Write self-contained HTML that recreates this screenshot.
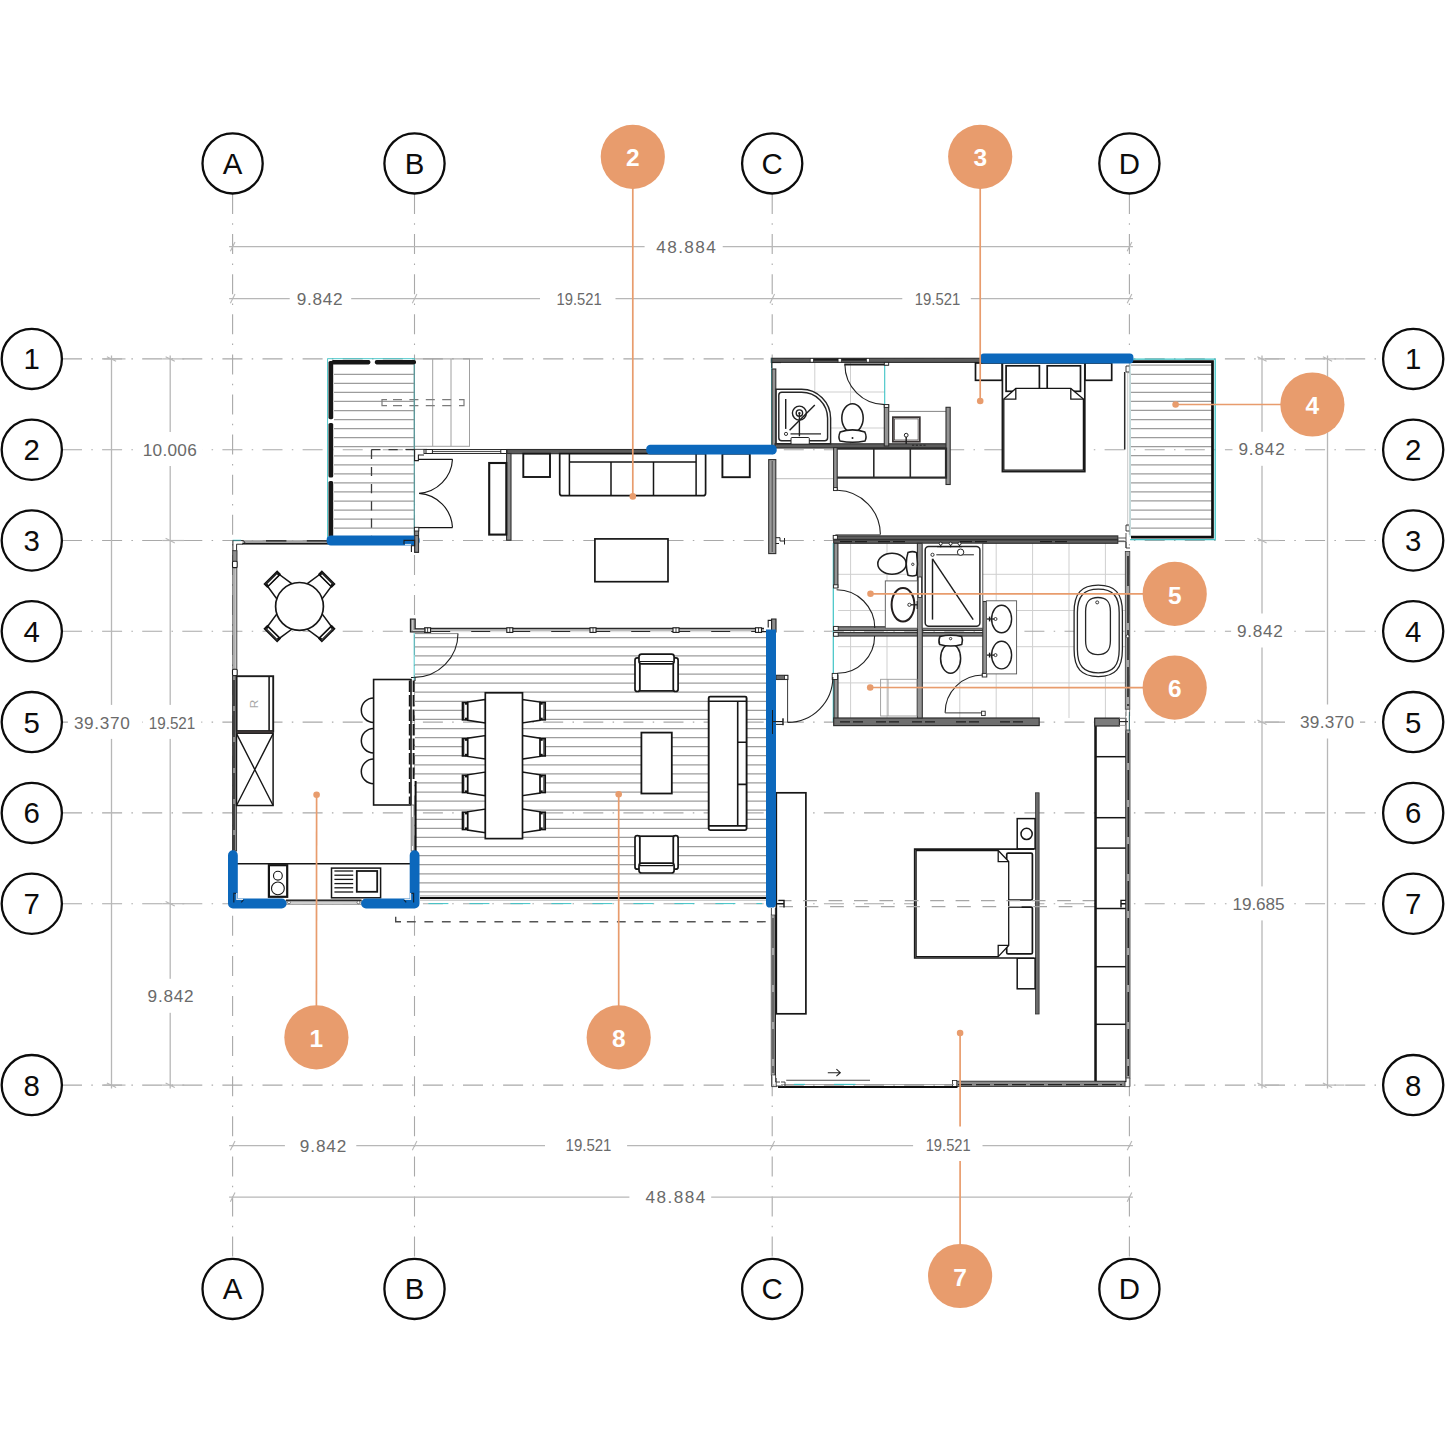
<!DOCTYPE html>
<html lang="en">
<head>
<meta charset="utf-8">
<title>Floor plan</title>
<style>html,body{margin:0;padding:0;background:#fff;}body{width:1445px;height:1445px;overflow:hidden;font-family:"Liberation Sans",sans-serif;}svg{display:block;}</style>
</head>
<body>
<svg width="1445" height="1445" viewBox="0 0 1445 1445" font-family="'Liberation Sans', sans-serif">
<rect width="1445" height="1445" fill="#ffffff"/>
<g id="tiles">
<line x1="814.8" y1="362" x2="814.8" y2="444" stroke="#cfcfcf" stroke-width="1"/>
<line x1="850.5" y1="362" x2="850.5" y2="444" stroke="#cfcfcf" stroke-width="1"/>
<line x1="776" y1="392" x2="885" y2="392" stroke="#cfcfcf" stroke-width="1"/>
<line x1="776" y1="428" x2="885" y2="428" stroke="#cfcfcf" stroke-width="1"/>
<line x1="776" y1="478.7" x2="834" y2="478.7" stroke="#bdbdbd" stroke-width="1"/>
<line x1="850.6" y1="543" x2="850.6" y2="718" stroke="#cfcfcf" stroke-width="1"/>
<line x1="887" y1="543" x2="887" y2="718" stroke="#cfcfcf" stroke-width="1"/>
<line x1="959.8" y1="543" x2="959.8" y2="718" stroke="#cfcfcf" stroke-width="1"/>
<line x1="996.2" y1="543" x2="996.2" y2="718" stroke="#cfcfcf" stroke-width="1"/>
<line x1="1032.6" y1="543" x2="1032.6" y2="718" stroke="#cfcfcf" stroke-width="1"/>
<line x1="1069" y1="543" x2="1069" y2="718" stroke="#cfcfcf" stroke-width="1"/>
<line x1="1105.4" y1="543" x2="1105.4" y2="718" stroke="#cfcfcf" stroke-width="1"/>
<line x1="838" y1="574.3" x2="1126" y2="574.3" stroke="#cfcfcf" stroke-width="1"/>
<line x1="838" y1="610.5" x2="1126" y2="610.5" stroke="#cfcfcf" stroke-width="1"/>
<line x1="838" y1="646.7" x2="1126" y2="646.7" stroke="#cfcfcf" stroke-width="1"/>
<line x1="838" y1="682.9" x2="1126" y2="682.9" stroke="#cfcfcf" stroke-width="1"/>
</g>
<g id="hatch">
<line x1="334" y1="374.3" x2="414.2" y2="374.3" stroke="#9c9c9c" stroke-width="1.25"/>
<line x1="334" y1="383.35" x2="414.2" y2="383.35" stroke="#9c9c9c" stroke-width="1.25"/>
<line x1="334" y1="392.4" x2="414.2" y2="392.4" stroke="#9c9c9c" stroke-width="1.25"/>
<line x1="334" y1="401.45" x2="414.2" y2="401.45" stroke="#9c9c9c" stroke-width="1.25"/>
<line x1="334" y1="410.5" x2="414.2" y2="410.5" stroke="#9c9c9c" stroke-width="1.25"/>
<line x1="334" y1="419.55" x2="414.2" y2="419.55" stroke="#9c9c9c" stroke-width="1.25"/>
<line x1="334" y1="428.6" x2="414.2" y2="428.6" stroke="#9c9c9c" stroke-width="1.25"/>
<line x1="334" y1="437.65" x2="414.2" y2="437.65" stroke="#9c9c9c" stroke-width="1.25"/>
<line x1="334" y1="446.7" x2="414.2" y2="446.7" stroke="#9c9c9c" stroke-width="1.25"/>
<line x1="334" y1="455.75" x2="414.2" y2="455.75" stroke="#9c9c9c" stroke-width="1.25"/>
<line x1="334" y1="464.8" x2="414.2" y2="464.8" stroke="#9c9c9c" stroke-width="1.25"/>
<line x1="334" y1="473.85" x2="414.2" y2="473.85" stroke="#9c9c9c" stroke-width="1.25"/>
<line x1="334" y1="482.9" x2="414.2" y2="482.9" stroke="#9c9c9c" stroke-width="1.25"/>
<line x1="334" y1="491.95" x2="414.2" y2="491.95" stroke="#9c9c9c" stroke-width="1.25"/>
<line x1="334" y1="501" x2="414.2" y2="501" stroke="#9c9c9c" stroke-width="1.25"/>
<line x1="334" y1="510.05" x2="414.2" y2="510.05" stroke="#9c9c9c" stroke-width="1.25"/>
<line x1="334" y1="519.1" x2="414.2" y2="519.1" stroke="#9c9c9c" stroke-width="1.25"/>
<line x1="334" y1="528.15" x2="414.2" y2="528.15" stroke="#9c9c9c" stroke-width="1.25"/>
<line x1="1131" y1="365.2" x2="1212" y2="365.2" stroke="#9c9c9c" stroke-width="1.25"/>
<line x1="1131" y1="374.25" x2="1212" y2="374.25" stroke="#9c9c9c" stroke-width="1.25"/>
<line x1="1131" y1="383.3" x2="1212" y2="383.3" stroke="#9c9c9c" stroke-width="1.25"/>
<line x1="1131" y1="392.35" x2="1212" y2="392.35" stroke="#9c9c9c" stroke-width="1.25"/>
<line x1="1131" y1="401.4" x2="1212" y2="401.4" stroke="#9c9c9c" stroke-width="1.25"/>
<line x1="1131" y1="410.45" x2="1212" y2="410.45" stroke="#9c9c9c" stroke-width="1.25"/>
<line x1="1131" y1="419.5" x2="1212" y2="419.5" stroke="#9c9c9c" stroke-width="1.25"/>
<line x1="1131" y1="428.55" x2="1212" y2="428.55" stroke="#9c9c9c" stroke-width="1.25"/>
<line x1="1131" y1="437.6" x2="1212" y2="437.6" stroke="#9c9c9c" stroke-width="1.25"/>
<line x1="1131" y1="446.65" x2="1212" y2="446.65" stroke="#9c9c9c" stroke-width="1.25"/>
<line x1="1131" y1="455.7" x2="1212" y2="455.7" stroke="#9c9c9c" stroke-width="1.25"/>
<line x1="1131" y1="464.75" x2="1212" y2="464.75" stroke="#9c9c9c" stroke-width="1.25"/>
<line x1="1131" y1="473.8" x2="1212" y2="473.8" stroke="#9c9c9c" stroke-width="1.25"/>
<line x1="1131" y1="482.85" x2="1212" y2="482.85" stroke="#9c9c9c" stroke-width="1.25"/>
<line x1="1131" y1="491.9" x2="1212" y2="491.9" stroke="#9c9c9c" stroke-width="1.25"/>
<line x1="1131" y1="500.95" x2="1212" y2="500.95" stroke="#9c9c9c" stroke-width="1.25"/>
<line x1="1131" y1="510" x2="1212" y2="510" stroke="#9c9c9c" stroke-width="1.25"/>
<line x1="1131" y1="519.05" x2="1212" y2="519.05" stroke="#9c9c9c" stroke-width="1.25"/>
<line x1="1131" y1="528.1" x2="1212" y2="528.1" stroke="#9c9c9c" stroke-width="1.25"/>
<line x1="415" y1="637.7" x2="766" y2="637.7" stroke="#9c9c9c" stroke-width="1.25"/>
<line x1="415" y1="646.78" x2="766" y2="646.78" stroke="#9c9c9c" stroke-width="1.25"/>
<line x1="415" y1="655.86" x2="766" y2="655.86" stroke="#9c9c9c" stroke-width="1.25"/>
<line x1="415" y1="664.94" x2="766" y2="664.94" stroke="#9c9c9c" stroke-width="1.25"/>
<line x1="415" y1="674.02" x2="766" y2="674.02" stroke="#9c9c9c" stroke-width="1.25"/>
<line x1="415" y1="683.1" x2="766" y2="683.1" stroke="#9c9c9c" stroke-width="1.25"/>
<line x1="415" y1="692.18" x2="766" y2="692.18" stroke="#9c9c9c" stroke-width="1.25"/>
<line x1="415" y1="701.26" x2="766" y2="701.26" stroke="#9c9c9c" stroke-width="1.25"/>
<line x1="415" y1="710.34" x2="766" y2="710.34" stroke="#9c9c9c" stroke-width="1.25"/>
<line x1="415" y1="719.42" x2="766" y2="719.42" stroke="#9c9c9c" stroke-width="1.25"/>
<line x1="415" y1="728.5" x2="766" y2="728.5" stroke="#9c9c9c" stroke-width="1.25"/>
<line x1="415" y1="737.58" x2="766" y2="737.58" stroke="#9c9c9c" stroke-width="1.25"/>
<line x1="415" y1="746.66" x2="766" y2="746.66" stroke="#9c9c9c" stroke-width="1.25"/>
<line x1="415" y1="755.74" x2="766" y2="755.74" stroke="#9c9c9c" stroke-width="1.25"/>
<line x1="415" y1="764.82" x2="766" y2="764.82" stroke="#9c9c9c" stroke-width="1.25"/>
<line x1="415" y1="773.9" x2="766" y2="773.9" stroke="#9c9c9c" stroke-width="1.25"/>
<line x1="415" y1="782.98" x2="766" y2="782.98" stroke="#9c9c9c" stroke-width="1.25"/>
<line x1="415" y1="792.06" x2="766" y2="792.06" stroke="#9c9c9c" stroke-width="1.25"/>
<line x1="415" y1="801.14" x2="766" y2="801.14" stroke="#9c9c9c" stroke-width="1.25"/>
<line x1="415" y1="810.22" x2="766" y2="810.22" stroke="#9c9c9c" stroke-width="1.25"/>
<line x1="415" y1="819.3" x2="766" y2="819.3" stroke="#9c9c9c" stroke-width="1.25"/>
<line x1="415" y1="828.38" x2="766" y2="828.38" stroke="#9c9c9c" stroke-width="1.25"/>
<line x1="415" y1="837.46" x2="766" y2="837.46" stroke="#9c9c9c" stroke-width="1.25"/>
<line x1="415" y1="846.54" x2="766" y2="846.54" stroke="#9c9c9c" stroke-width="1.25"/>
<line x1="415" y1="855.62" x2="766" y2="855.62" stroke="#9c9c9c" stroke-width="1.25"/>
<line x1="415" y1="864.7" x2="766" y2="864.7" stroke="#9c9c9c" stroke-width="1.25"/>
<line x1="415" y1="873.78" x2="766" y2="873.78" stroke="#9c9c9c" stroke-width="1.25"/>
<line x1="415" y1="882.86" x2="766" y2="882.86" stroke="#9c9c9c" stroke-width="1.25"/>
<line x1="415" y1="891.94" x2="766" y2="891.94" stroke="#9c9c9c" stroke-width="1.25"/>
</g>
<g id="grid">
<line x1="62" y1="358.9" x2="1383" y2="358.9" stroke="#a9a9a9" stroke-width="1.1" stroke-dasharray="20 9.3 1.5 9.3"/>
<line x1="62" y1="449.7" x2="1383" y2="449.7" stroke="#a9a9a9" stroke-width="1.1" stroke-dasharray="20 9.3 1.5 9.3"/>
<line x1="62" y1="540.5" x2="1383" y2="540.5" stroke="#a9a9a9" stroke-width="1.1" stroke-dasharray="20 9.3 1.5 9.3"/>
<line x1="62" y1="631.3" x2="1383" y2="631.3" stroke="#a9a9a9" stroke-width="1.1" stroke-dasharray="20 9.3 1.5 9.3"/>
<line x1="62" y1="722.1" x2="1383" y2="722.1" stroke="#a9a9a9" stroke-width="1.1" stroke-dasharray="20 9.3 1.5 9.3"/>
<line x1="62" y1="812.9" x2="1383" y2="812.9" stroke="#a9a9a9" stroke-width="1.1" stroke-dasharray="20 9.3 1.5 9.3"/>
<line x1="62" y1="903.7" x2="1383" y2="903.7" stroke="#a9a9a9" stroke-width="1.1" stroke-dasharray="20 9.3 1.5 9.3"/>
<line x1="62" y1="1085.1" x2="1383" y2="1085.1" stroke="#a9a9a9" stroke-width="1.1" stroke-dasharray="20 9.3 1.5 9.3"/>
<line x1="232.6" y1="194" x2="232.6" y2="1259" stroke="#a9a9a9" stroke-width="1.1" stroke-dasharray="20 9.3 1.5 9.3"/>
<line x1="414.5" y1="194" x2="414.5" y2="1259" stroke="#a9a9a9" stroke-width="1.1" stroke-dasharray="20 9.3 1.5 9.3"/>
<line x1="772.2" y1="194" x2="772.2" y2="1259" stroke="#a9a9a9" stroke-width="1.1" stroke-dasharray="20 9.3 1.5 9.3"/>
<line x1="1129.4" y1="194" x2="1129.4" y2="1259" stroke="#a9a9a9" stroke-width="1.1" stroke-dasharray="20 9.3 1.5 9.3"/>
</g>
<g id="dims">
<line x1="229.1" y1="246.6" x2="1132.9" y2="246.6" stroke="#b7b7b7" stroke-width="1.3"/>
<line x1="230.4" y1="251.2" x2="235" y2="242" stroke="#b7b7b7" stroke-width="1.1"/>
<line x1="1127.2" y1="251.2" x2="1131.8" y2="242" stroke="#b7b7b7" stroke-width="1.1"/>
<line x1="229.1" y1="298.7" x2="1132.9" y2="298.7" stroke="#b7b7b7" stroke-width="1.3"/>
<line x1="230.4" y1="303.3" x2="235" y2="294.1" stroke="#b7b7b7" stroke-width="1.1"/>
<line x1="412.3" y1="303.3" x2="416.9" y2="294.1" stroke="#b7b7b7" stroke-width="1.1"/>
<line x1="770" y1="303.3" x2="774.6" y2="294.1" stroke="#b7b7b7" stroke-width="1.1"/>
<line x1="1127.2" y1="303.3" x2="1131.8" y2="294.1" stroke="#b7b7b7" stroke-width="1.1"/>
<line x1="229.1" y1="1145.6" x2="1132.9" y2="1145.6" stroke="#b7b7b7" stroke-width="1.3"/>
<line x1="230.4" y1="1150.2" x2="235" y2="1141" stroke="#b7b7b7" stroke-width="1.1"/>
<line x1="412.3" y1="1150.2" x2="416.9" y2="1141" stroke="#b7b7b7" stroke-width="1.1"/>
<line x1="770" y1="1150.2" x2="774.6" y2="1141" stroke="#b7b7b7" stroke-width="1.1"/>
<line x1="1127.2" y1="1150.2" x2="1131.8" y2="1141" stroke="#b7b7b7" stroke-width="1.1"/>
<line x1="229.1" y1="1197.1" x2="1132.9" y2="1197.1" stroke="#b7b7b7" stroke-width="1.3"/>
<line x1="230.4" y1="1201.7" x2="235" y2="1192.5" stroke="#b7b7b7" stroke-width="1.1"/>
<line x1="1127.2" y1="1201.7" x2="1131.8" y2="1192.5" stroke="#b7b7b7" stroke-width="1.1"/>
<line x1="111.5" y1="355.4" x2="111.5" y2="1088.6" stroke="#b7b7b7" stroke-width="1.3"/>
<line x1="103.5" y1="358.9" x2="125.5" y2="358.9" stroke="#b7b7b7" stroke-width="1.2"/>
<line x1="106.9" y1="356.7" x2="116.1" y2="361.3" stroke="#b7b7b7" stroke-width="1.1"/>
<line x1="103.5" y1="1085.1" x2="125.5" y2="1085.1" stroke="#b7b7b7" stroke-width="1.2"/>
<line x1="106.9" y1="1082.9" x2="116.1" y2="1087.5" stroke="#b7b7b7" stroke-width="1.1"/>
<line x1="170.2" y1="355.4" x2="170.2" y2="1088.6" stroke="#b7b7b7" stroke-width="1.3"/>
<line x1="162.2" y1="358.9" x2="184.2" y2="358.9" stroke="#b7b7b7" stroke-width="1.2"/>
<line x1="165.6" y1="356.7" x2="174.8" y2="361.3" stroke="#b7b7b7" stroke-width="1.1"/>
<line x1="162.2" y1="540.5" x2="184.2" y2="540.5" stroke="#b7b7b7" stroke-width="1.2"/>
<line x1="165.6" y1="538.3" x2="174.8" y2="542.9" stroke="#b7b7b7" stroke-width="1.1"/>
<line x1="162.2" y1="903.7" x2="184.2" y2="903.7" stroke="#b7b7b7" stroke-width="1.2"/>
<line x1="165.6" y1="901.5" x2="174.8" y2="906.1" stroke="#b7b7b7" stroke-width="1.1"/>
<line x1="162.2" y1="1085.1" x2="184.2" y2="1085.1" stroke="#b7b7b7" stroke-width="1.2"/>
<line x1="165.6" y1="1082.9" x2="174.8" y2="1087.5" stroke="#b7b7b7" stroke-width="1.1"/>
<line x1="1262" y1="355.4" x2="1262" y2="1088.6" stroke="#b7b7b7" stroke-width="1.3"/>
<line x1="1258" y1="358.9" x2="1279" y2="358.9" stroke="#b7b7b7" stroke-width="1.2"/>
<line x1="1257.4" y1="356.7" x2="1266.6" y2="361.3" stroke="#b7b7b7" stroke-width="1.1"/>
<line x1="1258" y1="540.5" x2="1279" y2="540.5" stroke="#b7b7b7" stroke-width="1.2"/>
<line x1="1257.4" y1="538.3" x2="1266.6" y2="542.9" stroke="#b7b7b7" stroke-width="1.1"/>
<line x1="1258" y1="722.1" x2="1279" y2="722.1" stroke="#b7b7b7" stroke-width="1.2"/>
<line x1="1257.4" y1="719.9" x2="1266.6" y2="724.5" stroke="#b7b7b7" stroke-width="1.1"/>
<line x1="1258" y1="1085.1" x2="1279" y2="1085.1" stroke="#b7b7b7" stroke-width="1.2"/>
<line x1="1257.4" y1="1082.9" x2="1266.6" y2="1087.5" stroke="#b7b7b7" stroke-width="1.1"/>
<line x1="1327.5" y1="355.4" x2="1327.5" y2="1088.6" stroke="#b7b7b7" stroke-width="1.3"/>
<line x1="1323.5" y1="358.9" x2="1344.5" y2="358.9" stroke="#b7b7b7" stroke-width="1.2"/>
<line x1="1322.9" y1="356.7" x2="1332.1" y2="361.3" stroke="#b7b7b7" stroke-width="1.1"/>
<line x1="1323.5" y1="1085.1" x2="1344.5" y2="1085.1" stroke="#b7b7b7" stroke-width="1.2"/>
<line x1="1322.9" y1="1082.9" x2="1332.1" y2="1087.5" stroke="#b7b7b7" stroke-width="1.1"/>
<rect x="644.6" y="236.6" width="78.1" height="20" fill="#fff"/>
<text x="686" y="252.7" font-size="17.2" fill="#6a6a6a" font-weight="normal" text-anchor="middle" textLength="59.5" lengthAdjust="spacing">48.884</text>
<rect x="289.7" y="288.7" width="61.5" height="20" fill="#fff"/>
<text x="319.6" y="304.8" font-size="17.2" fill="#6a6a6a" font-weight="normal" text-anchor="middle" textLength="45.7" lengthAdjust="spacing">9.842</text>
<rect x="540" y="288.7" width="75.5" height="20" fill="#fff"/>
<text x="556.5" y="304.8" font-size="17.2" fill="#6a6a6a" textLength="45.2" lengthAdjust="spacingAndGlyphs">19.521</text>
<rect x="902.3" y="288.7" width="68.5" height="20" fill="#fff"/>
<text x="914.8" y="304.8" font-size="17.2" fill="#6a6a6a" textLength="45.4" lengthAdjust="spacingAndGlyphs">19.521</text>
<rect x="284.9" y="1135.6" width="71.4" height="20" fill="#fff"/>
<text x="323.1" y="1151.7" font-size="17.2" fill="#6a6a6a" font-weight="normal" text-anchor="middle" textLength="46.5" lengthAdjust="spacing">9.842</text>
<rect x="545" y="1135.3" width="82.1" height="20" fill="#fff"/>
<text x="565.55" y="1151.4" font-size="17.2" fill="#6a6a6a" textLength="45.9" lengthAdjust="spacingAndGlyphs">19.521</text>
<rect x="913.1" y="1134.4" width="69.4" height="20" fill="#fff"/>
<text x="925.7" y="1150.5" font-size="17.2" fill="#6a6a6a" textLength="45" lengthAdjust="spacingAndGlyphs">19.521</text>
<rect x="629.4" y="1187.1" width="81.8" height="20" fill="#fff"/>
<text x="675.3" y="1203.2" font-size="17.2" fill="#6a6a6a" font-weight="normal" text-anchor="middle" textLength="59.8" lengthAdjust="spacing">48.884</text>
<rect x="136.65" y="432" width="66.1" height="34" fill="#fff"/>
<text x="169.7" y="455.6" font-size="17.2" fill="#6a6a6a" font-weight="normal" text-anchor="middle" textLength="54.1" lengthAdjust="spacing">10.006</text>
<rect x="67.9" y="704.9" width="67.8" height="34" fill="#fff"/>
<text x="101.8" y="728.5" font-size="17.2" fill="#6a6a6a" font-weight="normal" text-anchor="middle" textLength="55.8" lengthAdjust="spacing">39.370</text>
<rect x="142.75" y="704.9" width="58.5" height="34" fill="#fff"/>
<text x="148.75" y="728.5" font-size="17.2" fill="#6a6a6a" textLength="46.5" lengthAdjust="spacingAndGlyphs">19.521</text>
<rect x="141.6" y="978.8" width="58" height="34" fill="#fff"/>
<text x="170.6" y="1002.4" font-size="17.2" fill="#6a6a6a" font-weight="normal" text-anchor="middle" textLength="46" lengthAdjust="spacing">9.842</text>
<rect x="1232.5" y="431.8" width="58.2" height="34" fill="#fff"/>
<text x="1261.6" y="455.4" font-size="17.2" fill="#6a6a6a" font-weight="normal" text-anchor="middle" textLength="46.2" lengthAdjust="spacing">9.842</text>
<rect x="1231.1" y="613.5" width="57.8" height="34" fill="#fff"/>
<text x="1260" y="637.1" font-size="17.2" fill="#6a6a6a" font-weight="normal" text-anchor="middle" textLength="45.8" lengthAdjust="spacing">9.842</text>
<rect x="1294" y="704.5" width="66" height="34" fill="#fff"/>
<text x="1327" y="728.1" font-size="17.2" fill="#6a6a6a" font-weight="normal" text-anchor="middle" textLength="54" lengthAdjust="spacing">39.370</text>
<rect x="1226.5" y="886.4" width="64" height="34" fill="#fff"/>
<text x="1258.5" y="910" font-size="17.2" fill="#6a6a6a" font-weight="normal" text-anchor="middle" textLength="52" lengthAdjust="spacing">19.685</text>
</g>
<g id="plan" stroke-linejoin="miter">
<line x1="772.2" y1="554.5" x2="772.2" y2="618.5" stroke="#fff" stroke-width="3"/>
<rect x="414.3" y="358.9" width="55.2" height="87.4" fill="none" stroke="#a0a0a0" stroke-width="1"/>
<line x1="432.7" y1="358.9" x2="432.7" y2="446.3" stroke="#a0a0a0" stroke-width="1"/>
<line x1="451" y1="358.9" x2="451" y2="446.3" stroke="#a0a0a0" stroke-width="1"/>
<path d="M387,399.6 H382 V405.7 H387 M459,399.6 H464 V405.7 H459" fill="none" stroke="#7c7c7c" stroke-width="1.2"/>
<line x1="393" y1="399.6" x2="457" y2="399.6" stroke="#7c7c7c" stroke-width="1.2" stroke-dasharray="9 7.4"/>
<line x1="393" y1="405.7" x2="457" y2="405.7" stroke="#7c7c7c" stroke-width="1.2" stroke-dasharray="9 7.4"/>
<rect x="327.6" y="358.7" width="86.7" height="181.5" fill="none" stroke="#3fc3c6" stroke-width="0.9"/>
<rect x="328.5" y="361" width="4.7" height="58.2" fill="#161616" rx="1.6"/>
<rect x="328.5" y="423" width="4.7" height="54.5" fill="#161616" rx="1.6"/>
<rect x="328.5" y="481" width="4.7" height="56" fill="#161616" rx="1.6"/>
<rect x="331.5" y="360" width="38.9" height="4.4" fill="#161616" rx="1.8"/>
<rect x="374.8" y="360" width="41.2" height="4.4" fill="#161616" rx="1.8"/>
<line x1="414.3" y1="364" x2="414.3" y2="538" stroke="#5f8a8c" stroke-width="0.9"/>
<line x1="371.3" y1="449.7" x2="414" y2="449.7" stroke="#3c3c3c" stroke-width="1.3" stroke-dasharray="9.2 8"/>
<line x1="371.5" y1="449.7" x2="371.5" y2="537" stroke="#3c3c3c" stroke-width="1.3" stroke-dasharray="9.2 8"/>
<path d="M418,459.3 H452.5 M452.5,459.3 A36,36 0 0 1 419,493.4 M418,527.6 H452.5 M452.5,527.6 A36,36 0 0 0 419,493.4" fill="none" stroke="#161616" stroke-width="1.15"/>
<path d="M414.6,449.6 V460.6 H418.4 V455 H424" fill="none" stroke="#222" stroke-width="1.1"/>
<rect x="414.6" y="527.5" width="4" height="24.9" fill="#8d8d8d" stroke="#2e2e2e" stroke-width="1"/>
<rect x="414.4" y="527.3" width="4.4" height="3.7" fill="#fff" stroke="#222" stroke-width="0.9"/>
<line x1="405.5" y1="449.4" x2="427" y2="449.4" stroke="#333" stroke-width="0.9"/>
<rect x="424" y="449.5" width="82" height="4" fill="#f2f2f2" stroke="#2e2e2e" stroke-width="1"/>
<line x1="430" y1="451.5" x2="502" y2="451.5" stroke="#444" stroke-width="0.9"/>
<rect x="426" y="449.5" width="6.4" height="4" fill="#fff" stroke="#222" stroke-width="1"/>
<rect x="500.8" y="449.5" width="5.8" height="4" fill="#fff" stroke="#222" stroke-width="1"/>
<rect x="507" y="449.5" width="141" height="4.2" fill="#5c5c5c" stroke="#2e2e2e" stroke-width="1.1"/>
<rect x="506.6" y="453.5" width="4.4" height="86.7" fill="#8a8a8a" stroke="#2e2e2e" stroke-width="1.1"/>
<rect x="489.2" y="463" width="17.1" height="71.6" fill="#fff" stroke="#161616" stroke-width="2.1"/>
<rect x="523.3" y="453.7" width="26.7" height="23.3" fill="#fff" stroke="#161616" stroke-width="1.9"/>
<rect x="722.4" y="453.7" width="27.4" height="23.5" fill="#fff" stroke="#161616" stroke-width="1.9"/>
<path d="M559.7,453.7 H705.6 V493.2 Q705.6,495.7 703.1,495.7 H562.2 Q559.7,495.7 559.7,493.2 Z" fill="#fff" stroke="#161616" stroke-width="1.7"/>
<path d="M569.4,453.7 V495.7 M696.1,453.7 V495.7 M569.4,462 H696.1 M611,462 V495.7 M653.5,462 V495.7" fill="none" stroke="#161616" stroke-width="1.5"/>
<rect x="594.9" y="538.9" width="73.1" height="42.8" fill="#fff" stroke="#161616" stroke-width="1.7"/>
<rect x="768.7" y="459.6" width="7.1" height="94" fill="#9a9a9a" stroke="#2e2e2e" stroke-width="1.1"/>
<line x1="772.2" y1="461" x2="772.2" y2="552" stroke="#3a3a3a" stroke-width="0.8"/>
<path d="M775.8,537.7 H780 V541 H784.5 M784.5,538 V544.5 M775.8,543.5 H779" fill="none" stroke="#222" stroke-width="1"/>
<rect x="425" y="628.2" width="339" height="4" fill="#e2e2e2"/>
<line x1="425" y1="628.5" x2="764" y2="628.5" stroke="#2a2a2a" stroke-width="1.3"/>
<line x1="425" y1="630.1" x2="764" y2="630.1" stroke="#8a8a8a" stroke-width="0.7"/>
<line x1="431.2" y1="631.5" x2="760" y2="631.5" stroke="#2a2a2a" stroke-width="1.1" stroke-dasharray="19 21"/>
<rect x="424.6" y="627.8" width="6" height="4.6" fill="#fff" stroke="#1c1c1c" stroke-width="1.1"/>
<line x1="427.6" y1="627.8" x2="427.6" y2="632.4" stroke="#1c1c1c" stroke-width="0.8"/>
<rect x="506.8" y="627.8" width="6" height="4.6" fill="#fff" stroke="#1c1c1c" stroke-width="1.1"/>
<line x1="509.8" y1="627.8" x2="509.8" y2="632.4" stroke="#1c1c1c" stroke-width="0.8"/>
<rect x="590" y="627.8" width="6" height="4.6" fill="#fff" stroke="#1c1c1c" stroke-width="1.1"/>
<line x1="593" y1="627.8" x2="593" y2="632.4" stroke="#1c1c1c" stroke-width="0.8"/>
<rect x="673" y="627.8" width="6" height="4.6" fill="#fff" stroke="#1c1c1c" stroke-width="1.1"/>
<line x1="676" y1="627.8" x2="676" y2="632.4" stroke="#1c1c1c" stroke-width="0.8"/>
<rect x="755.5" y="627.8" width="6" height="4.6" fill="#fff" stroke="#1c1c1c" stroke-width="1.1"/>
<line x1="758.5" y1="627.8" x2="758.5" y2="632.4" stroke="#1c1c1c" stroke-width="0.8"/>
<path d="M410.4,619 H415.2 V628.8 H425 V632 H410.4 Z" fill="#8d8d8d" stroke="#1f1f1f" stroke-width="1.1"/>
<path d="M412.8,620 V630.4 H424" fill="none" stroke="#e6e6e6" stroke-width="0.9"/>
<path d="M771.6,619 H776 V632 H771.6 Z" fill="#8d8d8d" stroke="#1f1f1f" stroke-width="1.1"/>
<path d="M771.6,620.4 H768.2 V627.4 M771.6,631.6 H762" fill="none" stroke="#1f1f1f" stroke-width="1.1"/>
<rect x="771.3" y="358.3" width="209.2" height="4.1" fill="#5a5a5a" stroke="#2e2e2e" stroke-width="1.1"/>
<rect x="812" y="358.6" width="56" height="2" fill="#1d1d1d"/>
<rect x="810.2" y="358.6" width="3.2" height="3.5" fill="#fff" stroke="#222" stroke-width="0.7"/>
<rect x="838.1" y="358.6" width="3.2" height="3.5" fill="#fff" stroke="#222" stroke-width="0.7"/>
<rect x="866.4" y="358.6" width="3.2" height="3.5" fill="#fff" stroke="#222" stroke-width="0.7"/>
<line x1="771.5" y1="358.5" x2="771.5" y2="446.5" stroke="#3fc3c6" stroke-width="0.9"/>
<rect x="772" y="369" width="3.8" height="77.3" fill="#949494" stroke="#2e2e2e" stroke-width="1.1"/>
<path d="M771.8,358.5 V368 M771.8,362.6 H781" fill="none" stroke="#222" stroke-width="1"/>
<rect x="775" y="443.8" width="174.4" height="4.2" fill="#5c5c5c" stroke="#2e2e2e" stroke-width="1.1"/>
<path d="M776.1,389.3 H801.6 A29,29 0 0 1 830.6,418.3 V443.8 H776.1 Z" fill="#fff" stroke="#262626" stroke-width="1.45"/>
<path d="M781.8,392.3 H801.6 A26,26 0 0 1 827.6,418.3 V437.8 Q827.6,440.8 824.6,440.8 H781.8 Q778.8,440.8 778.8,437.8 V395.3 Q778.8,392.3 781.8,392.3 Z" fill="none" stroke="#262626" stroke-width="1.45"/>
<circle cx="799.4" cy="413.1" r="7" fill="none" stroke="#1e1e1e" stroke-width="1.4"/>
<circle cx="799.4" cy="413.1" r="3.2" fill="none" stroke="#1e1e1e" stroke-width="1.4"/>
<circle cx="799.4" cy="413.1" r="1.2" fill="#222"/>
<line x1="785.7" y1="399" x2="785.7" y2="428.9" stroke="#1e1e1e" stroke-width="1.45"/>
<line x1="814.8" y1="405.1" x2="789.6" y2="430.2" stroke="#1e1e1e" stroke-width="1.45"/>
<line x1="799.4" y1="413.1" x2="799.4" y2="436.3" stroke="#222" stroke-width="1.4"/>
<circle cx="786" cy="433.9" r="1.6" fill="none" stroke="#222" stroke-width="0.9"/>
<line x1="790.5" y1="433.9" x2="821" y2="433.9" stroke="#1e1e1e" stroke-width="1.2"/>
<rect x="791" y="437.5" width="18.3" height="6.7" fill="#fff" stroke="#222" stroke-width="1" rx="1"/>
<ellipse cx="852.5" cy="418.1" rx="10.7" ry="14.3" fill="#fff" stroke="#1e1e1e" stroke-width="1.55"/>
<path d="M840.2,432 Q852.5,427.8 864.8,432 Q867.2,437 865,441 Q852.5,443.6 840,441 Q837.8,437 840.2,432 Z" fill="#fff" stroke="#1e1e1e" stroke-width="1.55"/>
<circle cx="852.5" cy="438" r="1" fill="#222"/>
<path d="M844.9,364.6 A40,40 0 0 0 884.9,404.6" fill="none" stroke="#222" stroke-width="1.1"/>
<line x1="884.7" y1="363.3" x2="884.7" y2="404.5" stroke="#3fc3c6" stroke-width="1.1"/>
<line x1="844.3" y1="364.5" x2="888.7" y2="364.5" stroke="#1e1e1e" stroke-width="1.8"/>
<rect x="884.3" y="362.4" width="4.4" height="2.8" fill="#fff" stroke="#222" stroke-width="0.9"/>
<rect x="884.3" y="404.8" width="4.4" height="41.2" fill="#949494" stroke="#2e2e2e" stroke-width="1.1"/>
<rect x="884.3" y="404.6" width="4.4" height="2.8" fill="#fff" stroke="#222" stroke-width="0.9"/>
<line x1="888.7" y1="411.4" x2="946" y2="411.4" stroke="#777" stroke-width="0.9"/>
<rect x="946" y="407.3" width="4.2" height="77.2" fill="#949494" stroke="#2e2e2e" stroke-width="1.1"/>
<rect x="892.9" y="417.2" width="26.9" height="24.5" fill="#fff" stroke="#3a3434" stroke-width="1.8"/>
<rect x="894.6" y="418.9" width="23.5" height="21.1" fill="none" stroke="#3a3434" stroke-width="0.7"/>
<circle cx="906.2" cy="435.2" r="1.9" fill="#fff" stroke="#222" stroke-width="1"/>
<line x1="906.2" y1="437" x2="906.2" y2="444" stroke="#222" stroke-width="1.5"/>
<line x1="912" y1="445.2" x2="926" y2="445.2" stroke="#222" stroke-width="1" stroke-dasharray="2.2 1.6"/>
<rect x="834.8" y="448.6" width="111.2" height="29" fill="#fff" stroke="#2b2b2b" stroke-width="2.2"/>
<line x1="873.8" y1="448.6" x2="873.8" y2="477.6" stroke="#2b2b2b" stroke-width="1.6"/>
<line x1="910.3" y1="448.6" x2="910.3" y2="477.6" stroke="#2b2b2b" stroke-width="1.6"/>
<rect x="833.6" y="447.6" width="3.6" height="42.7" fill="#949494" stroke="#2e2e2e" stroke-width="1.1"/>
<rect x="833.6" y="487.6" width="3.6" height="3" fill="#fff" stroke="#222" stroke-width="0.9"/>
<path d="M837.5,490.3 A44.5,44.5 0 0 1 880.4,534.6" fill="none" stroke="#222" stroke-width="1.1"/>
<line x1="835.4" y1="534.9" x2="880.4" y2="534.9" stroke="#222" stroke-width="0.9"/>
<rect x="975.5" y="363" width="26.7" height="17.3" fill="#fff" stroke="#161616" stroke-width="1.7"/>
<rect x="1085" y="363" width="26.7" height="17.3" fill="#fff" stroke="#161616" stroke-width="1.7"/>
<rect x="1002.4" y="363" width="82.4" height="108.6" fill="#fff" stroke="#1a1a1a" stroke-width="1.7"/>
<rect x="1006.1" y="365.8" width="33.3" height="25.5" fill="#fff" stroke="#161616" stroke-width="1.7"/>
<rect x="1047.2" y="365.8" width="33.3" height="25.5" fill="#fff" stroke="#161616" stroke-width="1.7"/>
<path d="M1003.8,470.2 V399.1 L1015.8,388.4 H1070.8 L1083.4,399.1 V470.2 Z" fill="#fff" stroke="#161616" stroke-width="1.3"/>
<path d="M1003.8,399.1 H1015.8 V388.4 M1083.4,399.1 H1070.8 V388.4" fill="none" stroke="#161616" stroke-width="1.3"/>
<line x1="1124.7" y1="372" x2="1124.7" y2="449.5" stroke="#2a2a2a" stroke-width="1.5"/>
<rect x="1127.4" y="373" width="2.6" height="153" fill="#f4f4f4" stroke="#c9c9c9" stroke-width="0.8"/>
<path d="M1129.5,366 H1126 V372 H1129" fill="none" stroke="#222" stroke-width="0.9"/>
<path d="M1129.5,531 H1126 V525 H1129" fill="none" stroke="#222" stroke-width="0.9"/>
<path d="M1130.1,359.2 H1215.2 V539.6 H1130.1" fill="none" stroke="#3fc3c6" stroke-width="1.3"/>
<line x1="1130.1" y1="362" x2="1130.1" y2="537" stroke="#a9cfd0" stroke-width="1"/>
<path d="M1131,361.6 H1212.5 V537.2 H1131" fill="none" stroke="#0d0d0d" stroke-width="2.7"/>
<rect x="833.7" y="535.9" width="284.1" height="3.5" fill="#5e5e5e" stroke="#2e2e2e" stroke-width="1.1"/>
<rect x="833.7" y="539.9" width="284.1" height="3.4" fill="#5e5e5e" stroke="#2e2e2e" stroke-width="1.1"/>
<line x1="840" y1="541.6" x2="870" y2="541.6" stroke="#1f1f1f" stroke-width="1.2" stroke-dasharray="12 3"/>
<line x1="878" y1="541.6" x2="908" y2="541.6" stroke="#1f1f1f" stroke-width="1.2" stroke-dasharray="12 3"/>
<line x1="960" y1="541.6" x2="990" y2="541.6" stroke="#1f1f1f" stroke-width="1.2" stroke-dasharray="12 3"/>
<line x1="1040" y1="541.6" x2="1070" y2="541.6" stroke="#1f1f1f" stroke-width="1.2" stroke-dasharray="12 3"/>
<rect x="833.2" y="535.4" width="4.2" height="3.8" fill="#fff" stroke="#222" stroke-width="0.9"/>
<path d="M1117.8,538 H1126 M1117.8,541.6 H1126 M1126,533 V548" fill="none" stroke="#444" stroke-width="0.9"/>
<line x1="833.3" y1="543" x2="833.3" y2="722" stroke="#3fc3c6" stroke-width="1.2"/>
<rect x="834" y="543.3" width="3.9" height="44.2" fill="#949494" stroke="#2e2e2e" stroke-width="1.1"/>
<rect x="833.6" y="584.8" width="4.3" height="3.2" fill="#fff" stroke="#222" stroke-width="0.9"/>
<rect x="834" y="626.8" width="152.5" height="3.7" fill="#858585" stroke="#2e2e2e" stroke-width="1.1"/>
<rect x="834" y="632.6" width="152.5" height="3.4" fill="#858585" stroke="#2e2e2e" stroke-width="1.1"/>
<rect x="833.6" y="626.4" width="4.6" height="4" fill="#fff" stroke="#222" stroke-width="0.9"/>
<rect x="833.6" y="632.4" width="4.6" height="3.8" fill="#fff" stroke="#222" stroke-width="0.9"/>
<rect x="834" y="675" width="4" height="47" fill="#949494" stroke="#2e2e2e" stroke-width="1.1"/>
<rect x="832.2" y="673.4" width="5.4" height="6.1" fill="#fff" stroke="#222" stroke-width="0.9"/>
<rect x="833.7" y="718" width="205.5" height="7.6" fill="#6e6e6e" stroke="#2e2e2e" stroke-width="1.2"/>
<line x1="840" y1="721.8" x2="866" y2="721.8" stroke="#1f1f1f" stroke-width="1.3" stroke-dasharray="10 3"/>
<line x1="876" y1="721.8" x2="902" y2="721.8" stroke="#1f1f1f" stroke-width="1.3" stroke-dasharray="10 3"/>
<line x1="912" y1="721.8" x2="938" y2="721.8" stroke="#1f1f1f" stroke-width="1.3" stroke-dasharray="10 3"/>
<line x1="956" y1="721.8" x2="982" y2="721.8" stroke="#1f1f1f" stroke-width="1.3" stroke-dasharray="10 3"/>
<line x1="1000" y1="721.8" x2="1026" y2="721.8" stroke="#1f1f1f" stroke-width="1.3" stroke-dasharray="10 3"/>
<rect x="917.4" y="543.3" width="4.9" height="174.7" fill="#949494" stroke="#2e2e2e" stroke-width="1.1"/>
<rect x="982.8" y="601.5" width="3.7" height="74.6" fill="#949494" stroke="#2e2e2e" stroke-width="1.1"/>
<rect x="982.2" y="673.4" width="4.6" height="3.6" fill="#fff" stroke="#222" stroke-width="0.9"/>
<ellipse cx="892" cy="563.8" rx="14.2" ry="10.5" fill="#fff" stroke="#1e1e1e" stroke-width="1.55"/>
<path d="M908,552.4 Q913,550.8 916.6,552.6 Q918.3,563.8 916.6,575 Q913,576.8 908,575.2 Q904.6,563.8 908,552.4 Z" fill="#fff" stroke="#1e1e1e" stroke-width="1.55"/>
<circle cx="912.8" cy="564.3" r="1.2" fill="none" stroke="#222" stroke-width="0.9"/>
<rect x="885.3" y="580.9" width="32.1" height="47.3" fill="#fff" stroke="#555" stroke-width="0.9"/>
<ellipse cx="903" cy="604.8" rx="11.4" ry="16.8" fill="none" stroke="#241e1e" stroke-width="2"/>
<circle cx="909.4" cy="604.8" r="1.6" fill="#fff" stroke="#222" stroke-width="0.9"/>
<line x1="911" y1="604.8" x2="917.4" y2="604.8" stroke="#222" stroke-width="1.3"/>
<line x1="917.2" y1="601" x2="917.2" y2="609" stroke="#222" stroke-width="1.2"/>
<rect x="922.3" y="543.3" width="60.5" height="84.9" fill="#fff" stroke="#444" stroke-width="0.9"/>
<rect x="925.2" y="546.6" width="54.7" height="79.7" fill="none" stroke="#262626" stroke-width="1.5" rx="3.5"/>
<circle cx="932.5" cy="554.8" r="1.6" fill="none" stroke="#222" stroke-width="0.9"/>
<line x1="936.3" y1="554.8" x2="973.9" y2="554.8" stroke="#222" stroke-width="1"/>
<line x1="932.5" y1="558.8" x2="932.5" y2="619.6" stroke="#1e1e1e" stroke-width="1.45"/>
<line x1="932.5" y1="558.8" x2="973.2" y2="619.6" stroke="#1e1e1e" stroke-width="1.45"/>
<circle cx="960.6" cy="552.2" r="3.2" fill="#fff" stroke="#222" stroke-width="1"/>
<path d="M937,546.6 H962" fill="none" stroke="#1e1e1e" stroke-width="1.2"/>
<circle cx="940.7" cy="543.6" r="1.5" fill="#fff" stroke="#1e1e1e" stroke-width="1"/>
<line x1="940.7" y1="545" x2="940.7" y2="547.2" stroke="#1e1e1e" stroke-width="1.1"/>
<circle cx="950.6" cy="543.6" r="1.5" fill="#fff" stroke="#1e1e1e" stroke-width="1"/>
<line x1="950.6" y1="545" x2="950.6" y2="547.2" stroke="#1e1e1e" stroke-width="1.1"/>
<circle cx="959.5" cy="543.6" r="1.5" fill="#fff" stroke="#1e1e1e" stroke-width="1"/>
<line x1="959.5" y1="545" x2="959.5" y2="547.2" stroke="#1e1e1e" stroke-width="1.1"/>
<rect x="918.2" y="577" width="3.4" height="20.5" fill="#fff" stroke="#222" stroke-width="0.8"/>
<ellipse cx="950.6" cy="658.4" rx="10" ry="14.8" fill="#fff" stroke="#1e1e1e" stroke-width="1.55"/>
<path d="M940,636.4 Q950.6,634 961.6,636.4 Q963.4,640.5 961.8,644.4 Q950.6,647.6 939.6,644.4 Q938,640.5 940,636.4 Z" fill="#fff" stroke="#1e1e1e" stroke-width="1.55"/>
<circle cx="950.6" cy="638.6" r="1.2" fill="none" stroke="#222" stroke-width="0.9"/>
<rect x="986.5" y="600.8" width="30.1" height="73.1" fill="#fff" stroke="#555" stroke-width="0.9"/>
<ellipse cx="1001.6" cy="619" rx="10" ry="13.8" fill="none" stroke="#1e1e1e" stroke-width="1.4"/>
<ellipse cx="1001.6" cy="655.1" rx="10" ry="13.8" fill="none" stroke="#1e1e1e" stroke-width="1.4"/>
<line x1="987" y1="619" x2="995" y2="619" stroke="#222" stroke-width="1.3"/>
<circle cx="995.5" cy="619" r="1.5" fill="#fff" stroke="#222" stroke-width="0.9"/>
<line x1="989.6" y1="616.6" x2="989.6" y2="621.4" stroke="#1e1e1e" stroke-width="1.45"/>
<line x1="987" y1="655.1" x2="995" y2="655.1" stroke="#222" stroke-width="1.3"/>
<circle cx="995.5" cy="655.1" r="1.5" fill="#fff" stroke="#222" stroke-width="0.9"/>
<line x1="989.6" y1="652.7" x2="989.6" y2="657.5" stroke="#1e1e1e" stroke-width="1.45"/>
<path d="M1074.1,612.25 C1074.1,593.31 1081.35,585.2 1098.25,585.2 C1115.15,585.2 1122.4,593.31 1122.4,612.25 V649.55 C1122.4,668.49 1115.15,676.6 1098.25,676.6 C1081.35,676.6 1074.1,668.49 1074.1,649.55 Z" fill="#fff" stroke="#262626" stroke-width="1.3"/>
<path d="M1077.4,612.61 C1077.4,596.22 1083.67,589.2 1098.3,589.2 C1112.93,589.2 1119.2,596.22 1119.2,612.61 V649.39 C1119.2,665.78 1112.93,672.8 1098.3,672.8 C1083.67,672.8 1077.4,665.78 1077.4,649.39 Z" fill="#fff" stroke="#262626" stroke-width="1.3"/>
<path d="M1085.6,611.39 C1085.6,601.67 1089.32,597.5 1098,597.5 C1106.68,597.5 1110.4,601.67 1110.4,611.39 V640.71 C1110.4,650.43 1106.68,654.6 1098,654.6 C1089.32,654.6 1085.6,650.43 1085.6,640.71 Z" fill="#fff" stroke="#262626" stroke-width="1.3"/>
<circle cx="1097.2" cy="602.4" r="1.5" fill="none" stroke="#222" stroke-width="0.9"/>
<path d="M836.6,589.8 A38.2,38.2 0 0 1 874.8,628" fill="none" stroke="#222" stroke-width="1.1"/>
<path d="M874.6,636 A37.2,37.2 0 0 1 837.5,673.3" fill="none" stroke="#222" stroke-width="1.1"/>
<path d="M945.1,712.7 A37.7,37.7 0 0 1 982.8,675" fill="none" stroke="#222" stroke-width="1.1"/>
<line x1="945.1" y1="712.9" x2="983" y2="712.9" stroke="#222" stroke-width="0.9"/>
<rect x="981.6" y="711.2" width="3.6" height="4.4" fill="#fff" stroke="#222" stroke-width="0.9"/>
<rect x="880.6" y="679.3" width="36.4" height="36.7" fill="none" stroke="#9a9a9a" stroke-width="0.9"/>
<line x1="888" y1="679.3" x2="888" y2="716" stroke="#9a9a9a" stroke-width="0.9"/>
<rect x="1125.3" y="551.5" width="4.5" height="157.7" fill="#a4a4a4" stroke="#3a3a3a" stroke-width="0.8"/>
<line x1="1128" y1="556" x2="1128" y2="706" stroke="#1c1c1c" stroke-width="1.5" stroke-dasharray="30 7"/>
<circle cx="1127.6" cy="636.2" r="1.5" fill="#fff" stroke="#222" stroke-width="0.8"/>
<path d="M1126,709 V716 M1129.6,709 V716" fill="none" stroke="#555" stroke-width="0.8"/>
<path d="M1130,548 H1126 V542" fill="none" stroke="#333" stroke-width="0.9"/>
<rect x="776" y="675.3" width="11.8" height="4.2" fill="#6a6a6a" stroke="#2e2e2e" stroke-width="1.1"/>
<rect x="784.6" y="675.5" width="3.2" height="3.8" fill="#fff" stroke="#222" stroke-width="0.8"/>
<line x1="787.6" y1="679.5" x2="787.6" y2="722.4" stroke="#222" stroke-width="0.9"/>
<path d="M787.6,722.4 A45.2,45.2 0 0 0 832.8,677" fill="none" stroke="#222" stroke-width="1.1"/>
<path d="M772.5,710 V734 M772.5,714 L774.5,711 M772.5,730 L774.5,733 M773,721.6 H783 M783,718.4 V725.2 M776,724.4 H783" fill="none" stroke="#1d1d1d" stroke-width="1"/>
<rect x="242.4" y="540.2" width="85.6" height="4.1" fill="#a2a2a2"/>
<line x1="242.4" y1="543.7" x2="328" y2="543.7" stroke="#161616" stroke-width="1.4"/>
<line x1="266" y1="540.8" x2="328" y2="540.8" stroke="#161616" stroke-width="1.3" stroke-dasharray="20.4 20.4"/>
<path d="M232.8,540.6 H243.5 L245.5,543.6 M236.6,550.5 V544.2 H243" fill="none" stroke="#2a2a2a" stroke-width="1"/>
<path d="M232.6,540.2 H241" fill="none" stroke="#3fc3c6" stroke-width="0.8"/>
<line x1="232.9" y1="540.6" x2="232.9" y2="551" stroke="#2a2a2a" stroke-width="1"/>
<rect x="232.7" y="550.7" width="4.3" height="10.8" fill="#8f8f8f" stroke="#2a2a2a" stroke-width="0.9"/>
<rect x="232.9" y="567" width="3.9" height="103" fill="#efefef" stroke="#2e2e2e" stroke-width="0.9"/>
<line x1="234.9" y1="567" x2="234.9" y2="670" stroke="#6a6a6a" stroke-width="0.8"/>
<rect x="232.5" y="561.3" width="4.7" height="6.3" fill="#fff" stroke="#1c1c1c" stroke-width="1.1" rx="1"/>
<rect x="232.5" y="669.2" width="4.7" height="6.4" fill="#fff" stroke="#1c1c1c" stroke-width="1.1" rx="1"/>
<rect x="232.6" y="675.8" width="4" height="175.2" fill="#8c8c8c" stroke="#2e2e2e" stroke-width="0.9"/>
<line x1="234" y1="680" x2="234" y2="850" stroke="#1a1a1a" stroke-width="1.3" stroke-dasharray="26 5"/>
<g transform="translate(299.5,606.4) rotate(45)">
<path d="M20,-10.9 L36.5,-8.4 V8.4 L20,10.9 Z" fill="#fff" stroke="#161616" stroke-width="1.5"/>
<rect x="36.5" y="-9" width="4.1" height="18" fill="#fff" stroke="#111" stroke-width="1.5"/>
<line x1="39.3" y1="-9" x2="39.3" y2="9" stroke="#111" stroke-width="1.2"/>
<rect x="36.7" y="-9.3" width="2.4" height="2.5" fill="#111"/>
<rect x="36.7" y="6.8" width="2.4" height="2.5" fill="#111"/>
</g>
<g transform="translate(299.5,606.4) rotate(135)">
<path d="M20,-10.9 L36.5,-8.4 V8.4 L20,10.9 Z" fill="#fff" stroke="#161616" stroke-width="1.5"/>
<rect x="36.5" y="-9" width="4.1" height="18" fill="#fff" stroke="#111" stroke-width="1.5"/>
<line x1="39.3" y1="-9" x2="39.3" y2="9" stroke="#111" stroke-width="1.2"/>
<rect x="36.7" y="-9.3" width="2.4" height="2.5" fill="#111"/>
<rect x="36.7" y="6.8" width="2.4" height="2.5" fill="#111"/>
</g>
<g transform="translate(299.5,606.4) rotate(225)">
<path d="M20,-10.9 L36.5,-8.4 V8.4 L20,10.9 Z" fill="#fff" stroke="#161616" stroke-width="1.5"/>
<rect x="36.5" y="-9" width="4.1" height="18" fill="#fff" stroke="#111" stroke-width="1.5"/>
<line x1="39.3" y1="-9" x2="39.3" y2="9" stroke="#111" stroke-width="1.2"/>
<rect x="36.7" y="-9.3" width="2.4" height="2.5" fill="#111"/>
<rect x="36.7" y="6.8" width="2.4" height="2.5" fill="#111"/>
</g>
<g transform="translate(299.5,606.4) rotate(315)">
<path d="M20,-10.9 L36.5,-8.4 V8.4 L20,10.9 Z" fill="#fff" stroke="#161616" stroke-width="1.5"/>
<rect x="36.5" y="-9" width="4.1" height="18" fill="#fff" stroke="#111" stroke-width="1.5"/>
<line x1="39.3" y1="-9" x2="39.3" y2="9" stroke="#111" stroke-width="1.2"/>
<rect x="36.7" y="-9.3" width="2.4" height="2.5" fill="#111"/>
<rect x="36.7" y="6.8" width="2.4" height="2.5" fill="#111"/>
</g>
<circle cx="299.5" cy="606.4" r="23.9" fill="#fff" stroke="#161616" stroke-width="1.7"/>
<rect x="236.6" y="676.2" width="36.6" height="55.3" fill="#fff" stroke="#1c1c1c" stroke-width="1.9"/>
<line x1="269.1" y1="676.5" x2="269.1" y2="731" stroke="#1c1c1c" stroke-width="1.6"/>
<text x="254.2" y="703.9" font-size="11.8" fill="#a8a8a8" text-anchor="middle" transform="rotate(-90 254.2 703.9)" dy="4.2">R</text>
<rect x="236.5" y="733.2" width="36.6" height="72.3" fill="#fff" stroke="#161616" stroke-width="1.5"/>
<rect x="236.5" y="730.6" width="36.6" height="3" fill="#3b3434" stroke="#222" stroke-width="0.8"/>
<path d="M236.5,733.6 L273.1,805.5 M273.1,733.6 L236.5,805.5" fill="none" stroke="#161616" stroke-width="1.4"/>
<path d="M373.6,697.9 A12.3,12.3 0 0 0 373.6,722.5" fill="#fff" stroke="#161616" stroke-width="1.5"/>
<path d="M373.6,728.4 A12.3,12.3 0 0 0 373.6,753" fill="#fff" stroke="#161616" stroke-width="1.5"/>
<path d="M373.6,759.1 A12.3,12.3 0 0 0 373.6,783.7" fill="#fff" stroke="#161616" stroke-width="1.5"/>
<rect x="373.6" y="679.5" width="37.4" height="125.5" fill="#fff" stroke="#161616" stroke-width="1.6"/>
<line x1="409.6" y1="680.5" x2="409.6" y2="804" stroke="#161616" stroke-width="1.6" stroke-dasharray="11.5 3"/>
<line x1="413.6" y1="680.5" x2="413.6" y2="782" stroke="#161616" stroke-width="1.9" stroke-dasharray="11.5 3"/>
<path d="M411,677.5 H415 V681" fill="none" stroke="#161616" stroke-width="1"/>
<rect x="411.2" y="805" width="2.8" height="46" fill="#fff" stroke="#555" stroke-width="0.8"/>
<line x1="412.6" y1="817" x2="412.6" y2="846" stroke="#8a8a8a" stroke-width="0.8"/>
<line x1="415.6" y1="781" x2="415.6" y2="852" stroke="#111" stroke-width="2"/>
<line x1="237" y1="863.7" x2="410.5" y2="863.7" stroke="#161616" stroke-width="1.4"/>
<rect x="268.9" y="865.2" width="18.3" height="31.6" fill="#fff" stroke="#141414" stroke-width="2.2"/>
<circle cx="277.9" cy="875.7" r="4.4" fill="none" stroke="#161616" stroke-width="1.1"/>
<circle cx="277.9" cy="888.4" r="6.4" fill="none" stroke="#161616" stroke-width="1.1"/>
<rect x="331.5" y="868.1" width="49.1" height="29.7" fill="#fff" stroke="#161616" stroke-width="1.5"/>
<line x1="334.4" y1="871" x2="353.2" y2="871" stroke="#161616" stroke-width="1.3"/>
<line x1="334.4" y1="875.2" x2="353.2" y2="875.2" stroke="#161616" stroke-width="1.3"/>
<line x1="334.4" y1="879.4" x2="353.2" y2="879.4" stroke="#161616" stroke-width="1.3"/>
<line x1="334.4" y1="883.6" x2="353.2" y2="883.6" stroke="#161616" stroke-width="1.3"/>
<line x1="334.4" y1="887.8" x2="353.2" y2="887.8" stroke="#161616" stroke-width="1.3"/>
<line x1="334.4" y1="892" x2="353.2" y2="892" stroke="#161616" stroke-width="1.3"/>
<rect x="356.8" y="871" width="20.4" height="20.8" fill="none" stroke="#161616" stroke-width="1.8"/>
<rect x="286" y="900.2" width="75.5" height="4.2" fill="#cfcfcf" stroke="#8a8a8a" stroke-width="0.7"/>
<line x1="286" y1="900.4" x2="361.5" y2="900.4" stroke="#2a2a2a" stroke-width="1.7"/>
<circle cx="289" cy="902.4" r="1.4" fill="#fff" stroke="#333" stroke-width="0.6"/>
<circle cx="358.4" cy="902.4" r="1.4" fill="#fff" stroke="#333" stroke-width="0.6"/>
<line x1="414.2" y1="633" x2="414.2" y2="680" stroke="#3fc3c6" stroke-width="0.9"/>
<path d="M458,633.5 A44,44 0 0 1 414.4,677.4" fill="none" stroke="#222" stroke-width="1.1"/>
<line x1="415" y1="633.6" x2="458" y2="633.6" stroke="#555" stroke-width="0.7"/>
<g transform="translate(485.5,711.2) rotate(180)">
<path d="M0,-11.8 L17.9,-9.1 V9.1 L0,11.8 Z" fill="#fff" stroke="#161616" stroke-width="1.5"/>
<rect x="17.9" y="-8.7" width="5.2" height="17.4" fill="#fff" stroke="#111" stroke-width="1.5"/>
<line x1="21.8" y1="-8.7" x2="21.8" y2="8.7" stroke="#111" stroke-width="1.2"/>
<rect x="18.1" y="-9" width="2.4" height="2.5" fill="#111"/>
<rect x="18.1" y="6.5" width="2.4" height="2.5" fill="#111"/>
</g>
<g transform="translate(522.2,711.2) rotate(0)">
<path d="M0,-11.8 L17.9,-9.1 V9.1 L0,11.8 Z" fill="#fff" stroke="#161616" stroke-width="1.5"/>
<rect x="17.9" y="-8.7" width="5.2" height="17.4" fill="#fff" stroke="#111" stroke-width="1.5"/>
<line x1="21.8" y1="-8.7" x2="21.8" y2="8.7" stroke="#111" stroke-width="1.2"/>
<rect x="18.1" y="-9" width="2.4" height="2.5" fill="#111"/>
<rect x="18.1" y="6.5" width="2.4" height="2.5" fill="#111"/>
</g>
<g transform="translate(485.5,747.3) rotate(180)">
<path d="M0,-11.8 L17.9,-9.1 V9.1 L0,11.8 Z" fill="#fff" stroke="#161616" stroke-width="1.5"/>
<rect x="17.9" y="-8.7" width="5.2" height="17.4" fill="#fff" stroke="#111" stroke-width="1.5"/>
<line x1="21.8" y1="-8.7" x2="21.8" y2="8.7" stroke="#111" stroke-width="1.2"/>
<rect x="18.1" y="-9" width="2.4" height="2.5" fill="#111"/>
<rect x="18.1" y="6.5" width="2.4" height="2.5" fill="#111"/>
</g>
<g transform="translate(522.2,747.3) rotate(0)">
<path d="M0,-11.8 L17.9,-9.1 V9.1 L0,11.8 Z" fill="#fff" stroke="#161616" stroke-width="1.5"/>
<rect x="17.9" y="-8.7" width="5.2" height="17.4" fill="#fff" stroke="#111" stroke-width="1.5"/>
<line x1="21.8" y1="-8.7" x2="21.8" y2="8.7" stroke="#111" stroke-width="1.2"/>
<rect x="18.1" y="-9" width="2.4" height="2.5" fill="#111"/>
<rect x="18.1" y="6.5" width="2.4" height="2.5" fill="#111"/>
</g>
<g transform="translate(485.5,783.9) rotate(180)">
<path d="M0,-11.8 L17.9,-9.1 V9.1 L0,11.8 Z" fill="#fff" stroke="#161616" stroke-width="1.5"/>
<rect x="17.9" y="-8.7" width="5.2" height="17.4" fill="#fff" stroke="#111" stroke-width="1.5"/>
<line x1="21.8" y1="-8.7" x2="21.8" y2="8.7" stroke="#111" stroke-width="1.2"/>
<rect x="18.1" y="-9" width="2.4" height="2.5" fill="#111"/>
<rect x="18.1" y="6.5" width="2.4" height="2.5" fill="#111"/>
</g>
<g transform="translate(522.2,783.9) rotate(0)">
<path d="M0,-11.8 L17.9,-9.1 V9.1 L0,11.8 Z" fill="#fff" stroke="#161616" stroke-width="1.5"/>
<rect x="17.9" y="-8.7" width="5.2" height="17.4" fill="#fff" stroke="#111" stroke-width="1.5"/>
<line x1="21.8" y1="-8.7" x2="21.8" y2="8.7" stroke="#111" stroke-width="1.2"/>
<rect x="18.1" y="-9" width="2.4" height="2.5" fill="#111"/>
<rect x="18.1" y="6.5" width="2.4" height="2.5" fill="#111"/>
</g>
<g transform="translate(485.5,820.9) rotate(180)">
<path d="M0,-11.8 L17.9,-9.1 V9.1 L0,11.8 Z" fill="#fff" stroke="#161616" stroke-width="1.5"/>
<rect x="17.9" y="-8.7" width="5.2" height="17.4" fill="#fff" stroke="#111" stroke-width="1.5"/>
<line x1="21.8" y1="-8.7" x2="21.8" y2="8.7" stroke="#111" stroke-width="1.2"/>
<rect x="18.1" y="-9" width="2.4" height="2.5" fill="#111"/>
<rect x="18.1" y="6.5" width="2.4" height="2.5" fill="#111"/>
</g>
<g transform="translate(522.2,820.9) rotate(0)">
<path d="M0,-11.8 L17.9,-9.1 V9.1 L0,11.8 Z" fill="#fff" stroke="#161616" stroke-width="1.5"/>
<rect x="17.9" y="-8.7" width="5.2" height="17.4" fill="#fff" stroke="#111" stroke-width="1.5"/>
<line x1="21.8" y1="-8.7" x2="21.8" y2="8.7" stroke="#111" stroke-width="1.2"/>
<rect x="18.1" y="-9" width="2.4" height="2.5" fill="#111"/>
<rect x="18.1" y="6.5" width="2.4" height="2.5" fill="#111"/>
</g>
<rect x="485.3" y="692.8" width="37.2" height="145.8" fill="#fff" stroke="#161616" stroke-width="1.7"/>
<rect x="639.4" y="660.1" width="34.3" height="30.8" fill="#fff" stroke="#161616" stroke-width="1.7"/>
<rect x="635" y="657.9" width="4.8" height="33.6" fill="#fff" stroke="#161616" stroke-width="1.7" rx="2.3"/>
<rect x="673.3" y="657.9" width="4.8" height="33.6" fill="#fff" stroke="#161616" stroke-width="1.7" rx="2.3"/>
<rect x="639" y="654.1" width="35.1" height="9.8" fill="#fff" stroke="#161616" stroke-width="1.7" rx="2.6"/>
<line x1="640" y1="661.5" x2="673.1" y2="661.5" stroke="#161616" stroke-width="1.2"/>
<rect x="639.4" y="836.2" width="34.3" height="30.8" fill="#fff" stroke="#161616" stroke-width="1.7"/>
<rect x="635" y="835.6" width="4.8" height="33.6" fill="#fff" stroke="#161616" stroke-width="1.7" rx="2.3"/>
<rect x="673.3" y="835.6" width="4.8" height="33.6" fill="#fff" stroke="#161616" stroke-width="1.7" rx="2.3"/>
<rect x="639" y="863.2" width="35.1" height="9.8" fill="#fff" stroke="#161616" stroke-width="1.7" rx="2.6"/>
<line x1="640" y1="865.6" x2="673.1" y2="865.6" stroke="#161616" stroke-width="1.2"/>
<rect x="641.4" y="732.6" width="30.4" height="60.9" fill="#fff" stroke="#161616" stroke-width="1.8"/>
<rect x="708.7" y="696.6" width="37.9" height="133.5" fill="#fff" stroke="#161616" stroke-width="1.9" rx="1.5"/>
<path d="M708.7,701.3 H746.6 M708.7,825.9 H746.6 M737.7,701.3 V825.9 M737.7,742.3 H746.6 M737.7,784.4 H746.6" fill="none" stroke="#161616" stroke-width="1.6"/>
<line x1="420" y1="895.9" x2="766" y2="895.9" stroke="#9a9a9a" stroke-width="0.9"/>
<line x1="420" y1="898" x2="766" y2="898" stroke="#0e0e0e" stroke-width="2.2"/>
<line x1="420" y1="900.2" x2="766" y2="900.2" stroke="#9a9a9a" stroke-width="0.7"/>
<line x1="428.4" y1="903.6" x2="762" y2="903.6" stroke="#3fc3c6" stroke-width="1" stroke-dasharray="20 21"/>
<path d="M395.7,916.8 V921.7 H401" fill="none" stroke="#4a4a4a" stroke-width="1.4"/>
<line x1="406.9" y1="921.7" x2="771" y2="921.7" stroke="#555" stroke-width="1.4" stroke-dasharray="8.8 8.7"/>
<rect x="771.2" y="915" width="4.4" height="160" fill="#a6a6a6" stroke="#555" stroke-width="0.8"/>
<line x1="775.3" y1="915" x2="775.3" y2="1075" stroke="#1b1b1b" stroke-width="1.2"/>
<line x1="773" y1="918" x2="773" y2="1073" stroke="#333" stroke-width="1.1" stroke-dasharray="30 7"/>
<path d="M771.4,908 V915 M775.4,908 V915 M771.6,1075 V1086.6 H777 M775.6,1075 V1082 H780" fill="none" stroke="#333" stroke-width="0.9"/>
<rect x="776.3" y="792.8" width="29.6" height="221" fill="#fff" stroke="#161616" stroke-width="1.7"/>
<rect x="1035.5" y="792.8" width="3.6" height="221.2" fill="#6a6a6a" stroke="#333" stroke-width="0.8"/>
<rect x="1017.2" y="818.6" width="17.9" height="30.3" fill="#fff" stroke="#161616" stroke-width="1.5"/>
<circle cx="1026.6" cy="833.9" r="5.6" fill="none" stroke="#161616" stroke-width="1.5"/>
<rect x="1017.2" y="958.2" width="17.9" height="30.6" fill="#fff" stroke="#161616" stroke-width="1.5"/>
<path d="M1034.5,849.1 H914.7 V958 H1034.5" fill="#fff" stroke="#1a1a1a" stroke-width="1.7"/>
<rect x="1006.7" y="853.2" width="25.7" height="46.8" fill="#fff" stroke="#161616" stroke-width="1.7" rx="1.4"/>
<rect x="1006.7" y="907.1" width="25.7" height="46.8" fill="#fff" stroke="#161616" stroke-width="1.7" rx="1.4"/>
<path d="M916.1,850.5 H998.2 L1008.7,861.6 V945.4 L998.2,956.6 H916.1 Z" fill="#fff" stroke="#161616" stroke-width="1.3"/>
<path d="M998.2,850.5 V861.6 H1008.7 M998.2,956.6 V945.4 H1008.7" fill="none" stroke="#161616" stroke-width="1.3"/>
<line x1="777.8" y1="900.7" x2="1124" y2="900.7" stroke="#a6a6a6" stroke-width="1.2" stroke-dasharray="13.7 11.7"/>
<line x1="779.3" y1="906.7" x2="1124" y2="906.7" stroke="#a6a6a6" stroke-width="1.2" stroke-dasharray="13.7 11.7"/>
<path d="M775,903.8 H784 M784,899.8 V907.6 M778.5,900.4 H784" fill="none" stroke="#151515" stroke-width="1.4"/>
<rect x="1095.2" y="718.4" width="30.7" height="363.2" fill="#fff" stroke="#161616" stroke-width="1.1"/>
<line x1="1095.6" y1="718.4" x2="1095.6" y2="1081.6" stroke="#151515" stroke-width="2.4"/>
<rect x="1094.7" y="718.2" width="24.7" height="7.8" fill="#7c7c7c" stroke="#2e2e2e" stroke-width="1.2"/>
<line x1="1119.4" y1="721.6" x2="1128" y2="721.6" stroke="#2a2a2a" stroke-width="1.2"/>
<path d="M1119.4,718.6 H1125.6 V712 M1119.4,725.4 H1125.4 V731" fill="none" stroke="#9a9a9a" stroke-width="0.9"/>
<line x1="1095.2" y1="756.7" x2="1125.9" y2="756.7" stroke="#161616" stroke-width="1.5"/>
<line x1="1095.2" y1="817.7" x2="1125.9" y2="817.7" stroke="#161616" stroke-width="1.5"/>
<line x1="1095.2" y1="848.1" x2="1125.9" y2="848.1" stroke="#161616" stroke-width="1.5"/>
<line x1="1095.2" y1="908.5" x2="1125.9" y2="908.5" stroke="#161616" stroke-width="1.5"/>
<line x1="1095.2" y1="966.7" x2="1125.9" y2="966.7" stroke="#161616" stroke-width="1.5"/>
<line x1="1095.2" y1="1024.3" x2="1125.9" y2="1024.3" stroke="#161616" stroke-width="1.5"/>
<path d="M1129,903.8 H1121 M1121,899.8 V907.6 M1126.5,900.4 H1121" fill="none" stroke="#151515" stroke-width="1.4"/>
<rect x="1126" y="730" width="4" height="348" fill="#a4a4a4" stroke="#3a3a3a" stroke-width="0.8"/>
<line x1="1128.2" y1="733" x2="1128.2" y2="1076" stroke="#1c1c1c" stroke-width="1.4" stroke-dasharray="30 7"/>
<line x1="1129.4" y1="712" x2="1129.4" y2="731" stroke="#2f5f5f" stroke-width="0.9"/>
<rect x="953.5" y="1081.2" width="171.5" height="5.2" fill="#8a8a8a" stroke="#2e2e2e" stroke-width="0.9"/>
<line x1="958" y1="1084.6" x2="1122" y2="1084.6" stroke="#242424" stroke-width="1.1" stroke-dasharray="14 4"/>
<rect x="952.6" y="1080.4" width="4.2" height="6.4" fill="#fff" stroke="#222" stroke-width="0.8"/>
<line x1="778" y1="1087.1" x2="957.5" y2="1087.1" stroke="#0e0e0e" stroke-width="2"/>
<line x1="781" y1="1084.6" x2="954" y2="1084.6" stroke="#8a8a8a" stroke-width="0.8"/>
<line x1="793.8" y1="1084.4" x2="805" y2="1084.4" stroke="#3fc3c6" stroke-width="1.1"/>
<line x1="834" y1="1084.4" x2="855.5" y2="1084.4" stroke="#3fc3c6" stroke-width="1.1"/>
<path d="M776.2,1078 V1086 H783 M781,1082 H785 V1087" fill="none" stroke="#333" stroke-width="0.9"/>
<path d="M1130,1078 V1086.6 H1124" fill="none" stroke="#555" stroke-width="0.9"/>
<line x1="786.2" y1="1080.3" x2="870" y2="1080.3" stroke="#4c4c4c" stroke-width="1.1"/>
<path d="M827.8,1072.7 H840.3 M836.4,1069.2 L840.3,1072.7 L836.4,1076.2" fill="none" stroke="#222" stroke-width="1.1"/>
</g>
<g id="blue" fill="#0c68bc">
<rect x="326.6" y="535.6" width="93" height="10" rx="4.2"/>
<rect x="646.2" y="444.7" width="130.5" height="9.9" rx="4.2"/>
<rect x="980.3" y="353.6" width="153.1" height="9.8" rx="3.6"/>
<path d="M766,629.6 H776 V903.4 Q776,907.6 771.8,907.6 H770.2 Q766,907.6 766,903.4 Z"/>
</g>
<g stroke="#0c68bc" stroke-width="9.8" stroke-linecap="round" stroke-linejoin="round" fill="none">
<path d="M232.9,855.2 V903.5 H281.7"/>
<path d="M366,903.5 H414.6 V855.2"/>
</g>
<rect x="414.8" y="535.6" width="3.6" height="16.6" fill="#8d8d8d" stroke="#2a2a2a" stroke-width="0.9"/>
<path d="M404,544.2 V540.4 H414.6 V545.8 H411.4 V552" fill="none" stroke="#1c1c1c" stroke-width="1.1"/>
<path d="M405,544.6 H411" fill="none" stroke="#cfe0ee" stroke-width="1.4"/>
<path d="M233.8,902.6 V893.4 H236.2 M243.4,899.8 L241.2,902.4" fill="none" stroke="#10263a" stroke-width="1.2"/>
<path d="M236.8,893 V899.4 H243" fill="none" stroke="#dfe7ee" stroke-width="1.1"/>
<path d="M413.6,902.6 V893.4 H411.2 M404,899.8 L406.2,902.4" fill="none" stroke="#10263a" stroke-width="1.2"/>
<path d="M410.6,893 V899.4 H404.4" fill="none" stroke="#dfe7ee" stroke-width="1.1"/>
<path d="M772.5,710 V734 M773,721.6 H783 M783,718.4 V725.2" fill="none" stroke="#1d1d1d" stroke-width="1"/>
<g id="orange" stroke="#e89c6d" stroke-width="1.7" fill="#e89c6d">
<line x1="632.8" y1="156.8" x2="632.8" y2="496.4"/>
<circle cx="632.8" cy="496.4" r="3.3" stroke="none"/>
<circle cx="632.8" cy="156.8" r="32.1" stroke="none"/>
<text x="632.8" y="166.4" font-size="24.5" font-weight="bold" fill="#fff" stroke="none" text-anchor="middle">2</text>
<line x1="980.2" y1="156.8" x2="980.2" y2="401"/>
<circle cx="980.2" cy="401" r="3.3" stroke="none"/>
<circle cx="980.2" cy="156.8" r="32.1" stroke="none"/>
<text x="980.2" y="166.4" font-size="24.5" font-weight="bold" fill="#fff" stroke="none" text-anchor="middle">3</text>
<line x1="1312.4" y1="404.5" x2="1175.6" y2="404.5"/>
<circle cx="1175.6" cy="404.5" r="3.3" stroke="none"/>
<circle cx="1312.4" cy="404.5" r="32.1" stroke="none"/>
<text x="1312.4" y="414.1" font-size="24.5" font-weight="bold" fill="#fff" stroke="none" text-anchor="middle">4</text>
<line x1="1174.7" y1="593.9" x2="870.5" y2="593.8"/>
<circle cx="870.5" cy="593.8" r="3.3" stroke="none"/>
<circle cx="1174.7" cy="593.9" r="32.1" stroke="none"/>
<text x="1174.7" y="603.5" font-size="24.5" font-weight="bold" fill="#fff" stroke="none" text-anchor="middle">5</text>
<line x1="1174.7" y1="687.7" x2="870.2" y2="687.5"/>
<circle cx="870.2" cy="687.5" r="3.3" stroke="none"/>
<circle cx="1174.7" cy="687.7" r="32.1" stroke="none"/>
<text x="1174.7" y="697.3" font-size="24.5" font-weight="bold" fill="#fff" stroke="none" text-anchor="middle">6</text>
<line x1="316.4" y1="1037.4" x2="316.6" y2="794.7"/>
<circle cx="316.6" cy="794.7" r="3.3" stroke="none"/>
<circle cx="316.4" cy="1037.4" r="32.1" stroke="none"/>
<text x="316.4" y="1047" font-size="24.5" font-weight="bold" fill="#fff" stroke="none" text-anchor="middle">1</text>
<line x1="618.7" y1="1037.4" x2="618.7" y2="794.2"/>
<circle cx="618.7" cy="794.2" r="3.3" stroke="none"/>
<circle cx="618.7" cy="1037.4" r="32.1" stroke="none"/>
<text x="618.7" y="1047" font-size="24.5" font-weight="bold" fill="#fff" stroke="none" text-anchor="middle">8</text>
<line x1="960.1" y1="1276" x2="960.1" y2="1160.9"/>
<line x1="960.1" y1="1126.6" x2="960.1" y2="1033"/>
<circle cx="960.1" cy="1033" r="3.3" stroke="none"/>
<circle cx="960.1" cy="1276" r="32.1" stroke="none"/>
<text x="960.1" y="1285.6" font-size="24.5" font-weight="bold" fill="#fff" stroke="none" text-anchor="middle">7</text>
</g>
<g id="bubbles">
<circle cx="232.6" cy="163.4" r="30.1" fill="#fff" stroke="#0c0c0c" stroke-width="2.3"/>
<text x="232.6" y="173.9" font-size="29.4" fill="#0c0c0c" font-weight="normal" text-anchor="middle">A</text>
<circle cx="232.6" cy="1288.9" r="30.1" fill="#fff" stroke="#0c0c0c" stroke-width="2.3"/>
<text x="232.6" y="1299.4" font-size="29.4" fill="#0c0c0c" font-weight="normal" text-anchor="middle">A</text>
<circle cx="414.5" cy="163.4" r="30.1" fill="#fff" stroke="#0c0c0c" stroke-width="2.3"/>
<text x="414.5" y="173.9" font-size="29.4" fill="#0c0c0c" font-weight="normal" text-anchor="middle">B</text>
<circle cx="414.5" cy="1288.9" r="30.1" fill="#fff" stroke="#0c0c0c" stroke-width="2.3"/>
<text x="414.5" y="1299.4" font-size="29.4" fill="#0c0c0c" font-weight="normal" text-anchor="middle">B</text>
<circle cx="772.2" cy="163.4" r="30.1" fill="#fff" stroke="#0c0c0c" stroke-width="2.3"/>
<text x="772.2" y="173.9" font-size="29.4" fill="#0c0c0c" font-weight="normal" text-anchor="middle">C</text>
<circle cx="772.2" cy="1288.9" r="30.1" fill="#fff" stroke="#0c0c0c" stroke-width="2.3"/>
<text x="772.2" y="1299.4" font-size="29.4" fill="#0c0c0c" font-weight="normal" text-anchor="middle">C</text>
<circle cx="1129.4" cy="163.4" r="30.1" fill="#fff" stroke="#0c0c0c" stroke-width="2.3"/>
<text x="1129.4" y="173.9" font-size="29.4" fill="#0c0c0c" font-weight="normal" text-anchor="middle">D</text>
<circle cx="1129.4" cy="1288.9" r="30.1" fill="#fff" stroke="#0c0c0c" stroke-width="2.3"/>
<text x="1129.4" y="1299.4" font-size="29.4" fill="#0c0c0c" font-weight="normal" text-anchor="middle">D</text>
<circle cx="31.8" cy="358.9" r="30.1" fill="#fff" stroke="#0c0c0c" stroke-width="2.3"/>
<text x="31.8" y="369.4" font-size="29.4" fill="#0c0c0c" font-weight="normal" text-anchor="middle">1</text>
<circle cx="1413.2" cy="358.9" r="30.1" fill="#fff" stroke="#0c0c0c" stroke-width="2.3"/>
<text x="1413.2" y="369.4" font-size="29.4" fill="#0c0c0c" font-weight="normal" text-anchor="middle">1</text>
<circle cx="31.8" cy="449.7" r="30.1" fill="#fff" stroke="#0c0c0c" stroke-width="2.3"/>
<text x="31.8" y="460.2" font-size="29.4" fill="#0c0c0c" font-weight="normal" text-anchor="middle">2</text>
<circle cx="1413.2" cy="449.7" r="30.1" fill="#fff" stroke="#0c0c0c" stroke-width="2.3"/>
<text x="1413.2" y="460.2" font-size="29.4" fill="#0c0c0c" font-weight="normal" text-anchor="middle">2</text>
<circle cx="31.8" cy="540.5" r="30.1" fill="#fff" stroke="#0c0c0c" stroke-width="2.3"/>
<text x="31.8" y="551" font-size="29.4" fill="#0c0c0c" font-weight="normal" text-anchor="middle">3</text>
<circle cx="1413.2" cy="540.5" r="30.1" fill="#fff" stroke="#0c0c0c" stroke-width="2.3"/>
<text x="1413.2" y="551" font-size="29.4" fill="#0c0c0c" font-weight="normal" text-anchor="middle">3</text>
<circle cx="31.8" cy="631.3" r="30.1" fill="#fff" stroke="#0c0c0c" stroke-width="2.3"/>
<text x="31.8" y="641.8" font-size="29.4" fill="#0c0c0c" font-weight="normal" text-anchor="middle">4</text>
<circle cx="1413.2" cy="631.3" r="30.1" fill="#fff" stroke="#0c0c0c" stroke-width="2.3"/>
<text x="1413.2" y="641.8" font-size="29.4" fill="#0c0c0c" font-weight="normal" text-anchor="middle">4</text>
<circle cx="31.8" cy="722.1" r="30.1" fill="#fff" stroke="#0c0c0c" stroke-width="2.3"/>
<text x="31.8" y="732.6" font-size="29.4" fill="#0c0c0c" font-weight="normal" text-anchor="middle">5</text>
<circle cx="1413.2" cy="722.1" r="30.1" fill="#fff" stroke="#0c0c0c" stroke-width="2.3"/>
<text x="1413.2" y="732.6" font-size="29.4" fill="#0c0c0c" font-weight="normal" text-anchor="middle">5</text>
<circle cx="31.8" cy="812.9" r="30.1" fill="#fff" stroke="#0c0c0c" stroke-width="2.3"/>
<text x="31.8" y="823.4" font-size="29.4" fill="#0c0c0c" font-weight="normal" text-anchor="middle">6</text>
<circle cx="1413.2" cy="812.9" r="30.1" fill="#fff" stroke="#0c0c0c" stroke-width="2.3"/>
<text x="1413.2" y="823.4" font-size="29.4" fill="#0c0c0c" font-weight="normal" text-anchor="middle">6</text>
<circle cx="31.8" cy="903.7" r="30.1" fill="#fff" stroke="#0c0c0c" stroke-width="2.3"/>
<text x="31.8" y="914.2" font-size="29.4" fill="#0c0c0c" font-weight="normal" text-anchor="middle">7</text>
<circle cx="1413.2" cy="903.7" r="30.1" fill="#fff" stroke="#0c0c0c" stroke-width="2.3"/>
<text x="1413.2" y="914.2" font-size="29.4" fill="#0c0c0c" font-weight="normal" text-anchor="middle">7</text>
<circle cx="31.8" cy="1085.1" r="30.1" fill="#fff" stroke="#0c0c0c" stroke-width="2.3"/>
<text x="31.8" y="1095.6" font-size="29.4" fill="#0c0c0c" font-weight="normal" text-anchor="middle">8</text>
<circle cx="1413.2" cy="1085.1" r="30.1" fill="#fff" stroke="#0c0c0c" stroke-width="2.3"/>
<text x="1413.2" y="1095.6" font-size="29.4" fill="#0c0c0c" font-weight="normal" text-anchor="middle">8</text>
</g>
</svg>
</body>
</html>
